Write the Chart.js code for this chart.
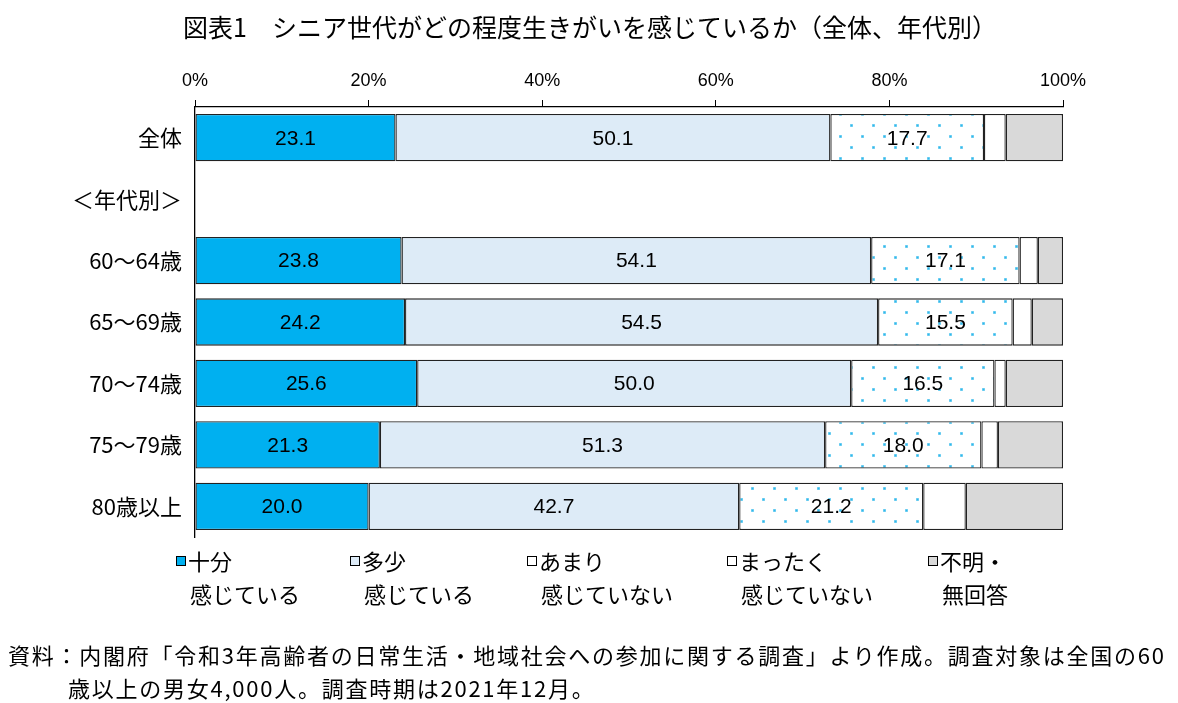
<!DOCTYPE html>
<html>
<head>
<meta charset="utf-8">
<script src="https://cdn.jsdelivr.net/npm/chart.js@4/dist/chart.umd.min.js"></script>
<style>
  body { margin: 0; background: #fff; }
  #wrap { position: relative; width: 1178px; height: 703px; }
  #note { position: absolute; left: 8px; top: 638px; font: 22px "Noto Sans CJK JP", sans-serif; letter-spacing: 1.75px; color: #000; line-height: 33px; white-space: nowrap; }
  #note .l2 { padding-left: 60px; }
</style>
</head>
<body>
<div id="wrap">
  <canvas id="chart" width="1178" height="703"></canvas>
  <div id="note">資料：内閣府「令和3年高齢者の日常生活・地域社会への参加に関する調査」より作成。調査対象は全国の60<br><span class="l2">歳以上の男女4,000人。調査時期は2021年12月。</span></div>
</div>
<script>
const title = '図表1　シニア世代がどの程度生きがいを感じているか（全体、年代別）';
const categories = ['全体', '＜年代別＞', '60～64歳', '65～69歳', '70～74歳', '75～79歳', '80歳以上'];
const seriesNames = [['十分', '感じている'], ['多少', '感じている'], ['あまり', '感じていない'], ['まったく', '感じていない'], ['不明・', '無回答']];
const juubun = [23.1, null, 23.8, 24.2, 25.6, 21.3, 20.0];
const tashou = [50.1, null, 54.1, 54.5, 50.0, 51.3, 42.7];
const amari = [17.7, null, 17.1, 15.5, 16.5, 18.0, 21.2];
const mattaku = [2.5, null, 2.1, 2.2, 1.3, 1.9, 4.9];
const fumei = [6.6, null, 2.9, 3.6, 6.6, 7.5, 11.2];
const xTicks = [0, 20, 40, 60, 80, 100];

// dotted fill for "あまり感じていない"
function dotPattern() {
    const c = document.createElement('canvas');
    c.width = 22; c.height = 22;
    const g = c.getContext('2d');
    g.fillStyle = '#fff';
    g.fillRect(0, 0, 22, 22);
    [[4, 4], [15, 15]].forEach(([x, y]) => {
        g.fillStyle = '#9ADCF5';
        g.fillRect(x - 1, y - 1, 3, 3);
        g.fillStyle = '#2FB8EC';
        g.fillRect(x - 0.5, y - 0.5, 2, 2);
    });
    return g.createPattern(c, 'repeat');
}

const numFont = '21px "Liberation Sans", Arial, sans-serif';
const jpFont = '"Noto Sans CJK JP", sans-serif';

const colors = ['#00B0F0', '#DDEBF7', dotPattern(), '#FFFFFF', '#D9D9D9'];
const legendSwatch = ['#00B0F0', '#DDEBF7', '#FFFFFF', '#FFFFFF', '#D9D9D9'];
const values = [juubun, tashou, amari, mattaku, fumei];

const extras = {
    id: 'extras',
    afterDraw(chart) {
        const ctx = chart.ctx;
        ctx.save();
        // title
        ctx.fillStyle = '#000';
        ctx.font = '25px ' + jpFont;
        ctx.textAlign = 'center';
        ctx.textBaseline = 'middle';
        ctx.fillText(title, 590, 27);
        // value labels
        ctx.font = numFont;
        [0, 1, 2].forEach(di => {
            const meta = chart.getDatasetMeta(di);
            meta.data.forEach((bar, i) => {
                const v = values[di][i];
                if (v == null) return;
                const left = Math.min(bar.x, bar.base), right = Math.max(bar.x, bar.base);
                ctx.fillText(v.toFixed(1), (left + right) / 2, bar.y + 1);
            });
        });
        // legend
        const lx = [176, 350, 527, 727, 928];
        ctx.textAlign = 'left';
        ctx.font = '22px ' + jpFont;
        seriesNames.forEach((name, i) => {
            ctx.fillStyle = legendSwatch[i];
            ctx.fillRect(lx[i], 556, 10, 10);
            ctx.strokeStyle = '#000';
            ctx.lineWidth = 1;
            ctx.strokeRect(lx[i] + 0.5, 556.5, 9, 9);
            ctx.fillStyle = '#000';
            ctx.fillText(name[0], lx[i] + 12, 562);
            ctx.fillText(name[1], lx[i] + 14, 595);
        });
        ctx.restore();
    }
};

new Chart(document.getElementById('chart'), {
    type: 'bar',
    data: {
        labels: categories,
        datasets: values.map((arr, i) => ({
            label: seriesNames[i].join(''),
            data: arr,
            backgroundColor: colors[i],
            borderColor: '#222',
            borderWidth: 1.3,
            borderSkipped: false,
            barPercentage: 0.77,
            categoryPercentage: 1
        }))
    },
    options: {
        indexAxis: 'y',
        responsive: false,
        animation: false,
        layout: { padding: { top: 0, left: 0, right: 115, bottom: 166 } },
        plugins: {
            legend: { display: false },
            tooltip: { enabled: false }
        },
        scales: {
            x: {
                stacked: true,
                position: 'top',
                min: 0,
                max: 100,
                afterBuildTicks: s => { s.ticks = xTicks.map(v => ({ value: v })); },
                afterFit: s => { s.height = 107; },
                grid: { drawOnChartArea: false, drawTicks: true, tickLength: 7, color: '#000' },
                border: { display: true, color: '#000', width: 1.3 },
                ticks: {
                    callback: v => v + '%',
                    color: '#000',
                    padding: 8,
                    font: { family: '"Liberation Sans Narrow", "Liberation Sans", sans-serif', size: 18 }
                }
            },
            y: {
                stacked: true,
                afterFit: s => { s.width = 195; },
                grid: { display: false },
                border: { display: true, color: '#000', width: 1.3 },
                ticks: {
                    color: '#000',
                    padding: 5,
                    font: { family: '"Noto Sans CJK JP", sans-serif', size: 22 }
                }
            }
        }
    },
    plugins: [extras]
});
</script>
</body>
</html>
